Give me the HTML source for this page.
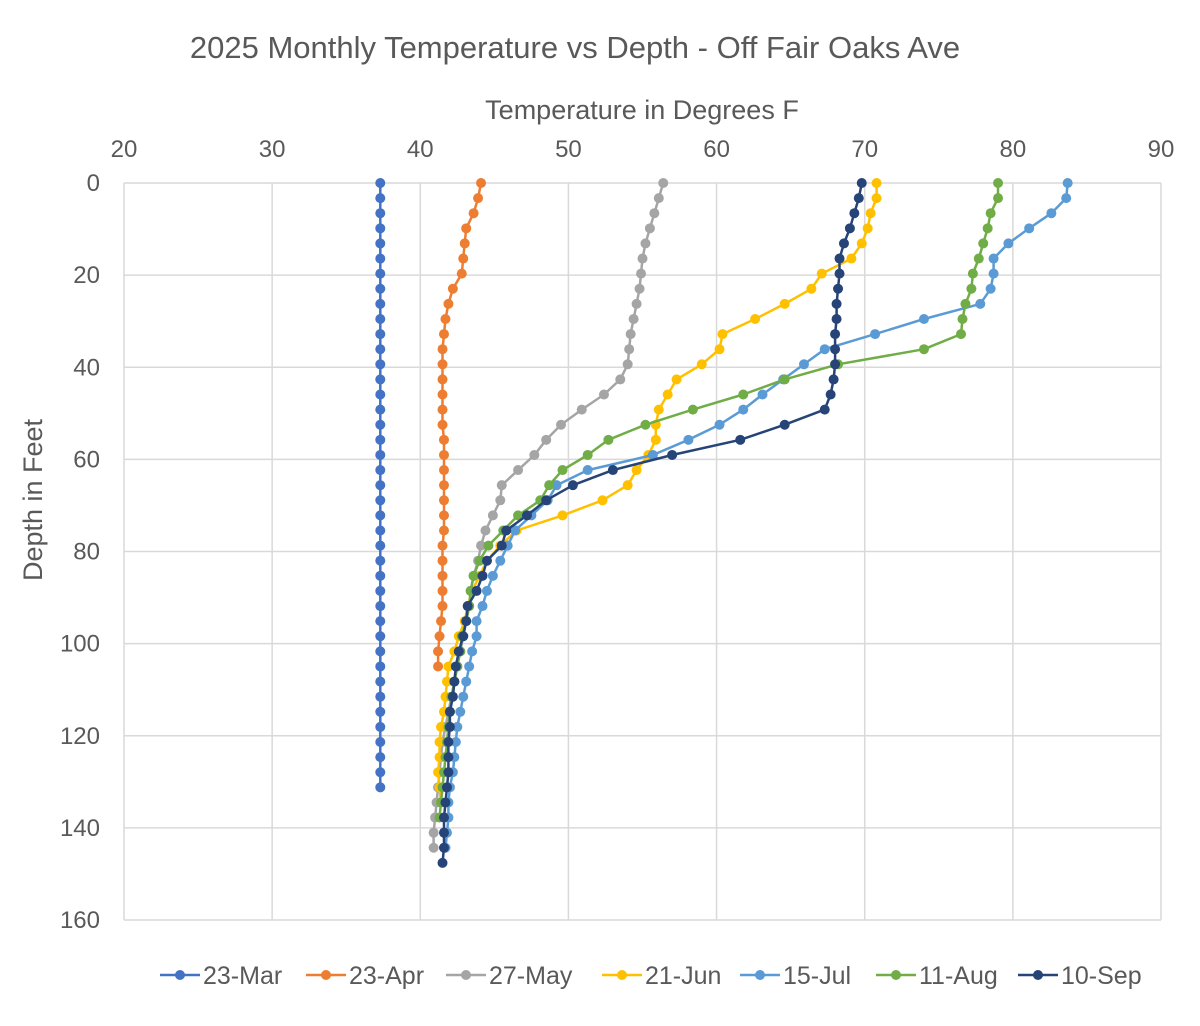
<!DOCTYPE html>
<html><head><meta charset="utf-8"><style>
body{margin:0;background:#fff;font-family:"Liberation Sans",sans-serif;}
svg{display:block}
text{font-family:"Liberation Sans",sans-serif;fill:#595959}
</style></head><body>
<svg id="chart" width="1200" height="1026" viewBox="0 0 1200 1026" xmlns="http://www.w3.org/2000/svg">
<rect x="0" y="0" width="1200" height="1026" fill="#fff"/>
<text x="575" y="58" text-anchor="middle" font-size="31">2025 Monthly Temperature vs Depth - Off Fair Oaks Ave</text>
<text x="642" y="119" text-anchor="middle" font-size="27">Temperature in Degrees F</text>
<text transform="translate(42,500) rotate(-90)" text-anchor="middle" font-size="27">Depth in Feet</text>
<g id="grid"></g><g id="series"></g><g id="legend"></g>
</svg>
<script>
const xTicks=[20,30,40,50,60,70,80,90];
const yTicks=[0,20,40,60,80,100,120,140,160];
const seriesNames=["23-Mar","23-Apr","27-May","21-Jun","15-Jul","11-Aug","10-Sep"];
const depthStep=3.28;
const mar=Array(41).fill(37.3);
const apr=[44.1,43.9,43.6,43.1,43.0,42.9,42.8,42.2,41.9,41.7,41.6,41.5,41.5,41.5,41.5,41.5,41.5,41.6,41.6,41.6,41.6,41.6,41.6,41.6,41.5,41.5,41.5,41.5,41.5,41.4,41.3,41.2,41.2];
const may=[56.4,56.1,55.8,55.5,55.2,55.0,54.9,54.8,54.6,54.4,54.2,54.1,54.0,53.5,52.4,50.9,49.5,48.5,47.7,46.6,45.5,45.4,44.9,44.4,44.1,43.9,43.6,43.4,43.3,43.1,42.9,42.7,42.5,42.3,42.1,41.9,41.7,41.5,41.4,41.3,41.2,41.1,41.0,40.9,40.9];
const jun=[70.8,70.8,70.4,70.2,69.8,69.1,67.1,66.4,64.6,62.6,60.4,60.2,59.0,57.3,56.7,56.1,55.9,55.9,55.4,54.6,54.0,52.3,49.6,46.5,45.4,44.5,44.0,43.5,43.2,43.0,42.6,42.3,41.9,41.8,41.7,41.6,41.4,41.3,41.3,41.2,41.3,41.4];
const jul=[83.7,83.6,82.6,81.1,79.7,78.7,78.7,78.5,77.8,74.0,70.7,67.3,65.9,64.5,63.1,61.8,60.2,58.1,55.7,51.3,49.2,48.6,47.5,46.4,45.9,45.4,44.9,44.5,44.2,43.8,43.8,43.5,43.3,43.1,42.9,42.7,42.5,42.4,42.3,42.2,42.0,41.9,41.9,41.8,41.7];
const aug=[79.0,79.0,78.5,78.3,78.0,77.7,77.3,77.2,76.8,76.6,76.5,74.0,68.2,64.6,61.8,58.4,55.2,52.7,51.3,49.6,48.7,48.1,46.6,45.6,44.6,44.0,43.6,43.4,43.3,43.1,42.8,42.7,42.5,42.3,42.1,42.0,41.9,41.8,41.7,41.6,41.5,41.4,41.3];
const sep=[69.8,69.6,69.3,69.0,68.6,68.3,68.3,68.2,68.1,68.1,68.0,68.0,68.0,67.9,67.7,67.3,64.6,61.6,57.0,53.0,50.3,48.5,47.2,45.8,45.5,44.5,44.2,43.8,43.2,43.1,42.9,42.6,42.4,42.3,42.2,42.0,42.0,41.9,41.9,41.9,41.8,41.7,41.6,41.6,41.6,41.5];
const allSeries=[mar,apr,may,jun,jul,aug,sep];
const colors=["#4472C4","#ED7D31","#A5A5A5","#FFC000","#5B9BD5","#70AD47","#264478"];
const X0=124,X1=1161,Y0=183,Y1=920;
const xs=v=>X0+(v-20)/70*(X1-X0);
const ys=d=>Y0+d/160*(Y1-Y0);
const NS="http://www.w3.org/2000/svg";
function mk(t,a,p){const e=document.createElementNS(NS,t);for(const k in a)e.setAttribute(k,a[k]);p.appendChild(e);return e;}
const grid=document.getElementById('grid');
xTicks.forEach(t=>{
 const l=mk('line',{x1:xs(t),x2:xs(t),y1:Y0,y2:Y1,stroke:'#d9d9d9','stroke-width':1.5},grid);
 
 
 const tx=mk('text',{x:xs(t),y:157,'text-anchor':'middle','font-size':24},grid);tx.textContent=t;
 
 
});
yTicks.forEach(t=>{
 const l=mk('line',{x1:X0,x2:X1,y1:ys(t),y2:ys(t),stroke:'#d9d9d9','stroke-width':1.5},grid);
 
 
 const tx=mk('text',{x:100,y:ys(t)+8,'text-anchor':'end','font-size':24},grid);tx.textContent=t;
 
 
});
const sg=document.getElementById('series');
allSeries.forEach((arr,si)=>{
 const g=mk('g',{},sg);
 
 
 const pts=arr.map((v,i)=>xs(v).toFixed(1)+','+ys(i*depthStep).toFixed(1)).join(' ');
 const pl=mk('polyline',{points:pts,fill:'none',stroke:colors[si],'stroke-width':2.5,'stroke-linejoin':'round'},g);
 
 
 arr.forEach((v,i)=>{
  const c=mk('circle',{cx:xs(v),cy:ys(i*depthStep),r:5,fill:colors[si]},g);
  
  
 });
});
const lg=document.getElementById('legend');
const legendX=[160,306,446,602,740,876,1018];
seriesNames.forEach((n,i)=>{
 const g=mk('g',{},lg);
 
 
 const x=legendX[i];
 mk('line',{x1:x,x2:x+40,y1:975,y2:975,stroke:colors[i],'stroke-width':2.5},g);
 mk('circle',{cx:x+20,cy:975,r:5,fill:colors[i]},g);
 const t=mk('text',{x:x+43,y:984,'font-size':25},g);t.textContent=n;
});
</script>
</body></html>
